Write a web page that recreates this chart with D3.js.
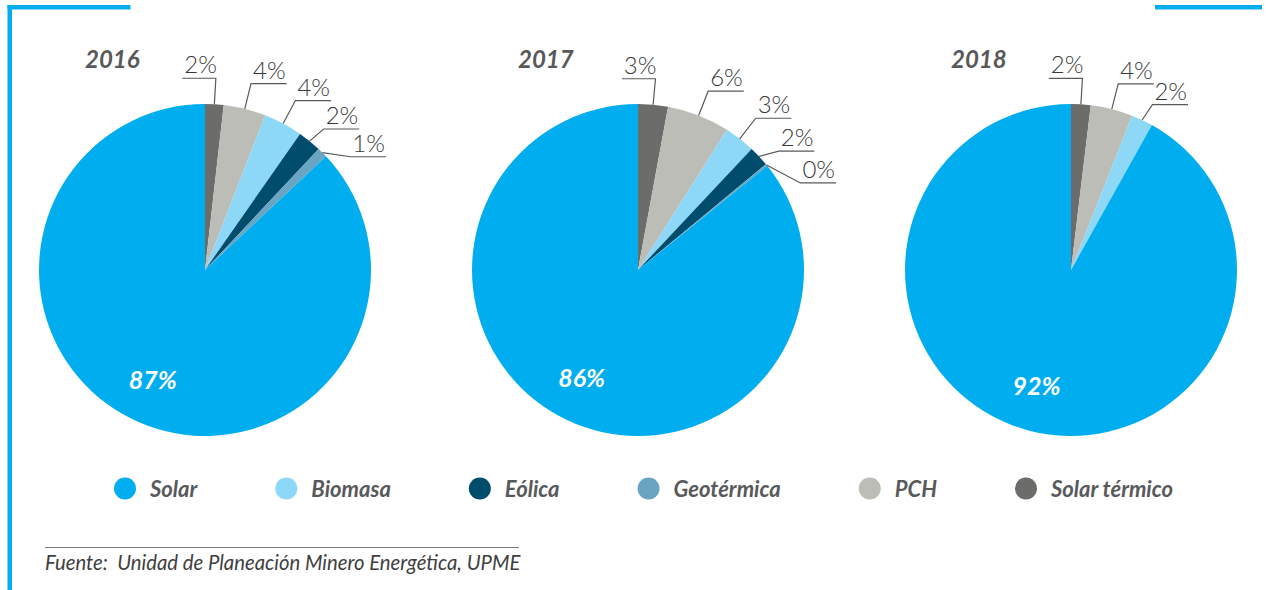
<!DOCTYPE html>
<html>
<head>
<meta charset="utf-8">
<script src="https://cdn.jsdelivr.net/npm/d3@7"></script>
<style>
  html, body { margin: 0; padding: 0; background: #ffffff; }
  svg { display: block; }
</style>
</head>
<body>
<svg id="chart" width="1266" height="590"></svg>
<script>
// ---------- DATA ----------
const categories = ["Solar", "Biomasa", "Eólica", "Geotérmica", "PCH", "Solar térmico"];
const years = ["2016", "2017", "2018"];
// values in legend (category) order, percent share
const values2016 = [87.0, 3.8, 2.3, 1.0, 4.1, 1.8];
const values2017 = [85.8, 3.0, 2.0, 0.2, 6.1, 2.9];
const values2018 = [91.9, 2.1, 0.0, 0.0, 4.1, 1.9];
// clockwise drawing order starting at 12 o'clock
const sliceOrder = ["Solar térmico", "PCH", "Biomasa", "Eólica", "Geotérmica", "Solar"];
const sourceText = "Fuente:  Unidad de Planeación Minero Energética, UPME";

// ---------- STYLE ----------
const colors = {
  "Solar": "#00ADEE",
  "Biomasa": "#8DD7F7",
  "Eólica": "#004C6D",
  "Geotérmica": "#69A5C1",
  "PCH": "#BDBDB8",
  "Solar térmico": "#6C6C6A"
};
const color = d3.scaleOrdinal().domain(categories).range(categories.map(c => colors[c]));
const textGrey = "#58595B";
const lineGrey = "#595959";
const frameBlue = "#00ADEE";
const FONT = "Lato, 'Open Sans', sans-serif";

const svg = d3.select("#chart");
const W = 1266, H = 590;

// ---------- FRAME ----------
svg.append("rect").attr("x", 7.5).attr("y", 5).attr("width", 4.5).attr("height", H - 5).attr("fill", frameBlue);
svg.append("rect").attr("x", 7.5).attr("y", 5).attr("width", 123).attr("height", 4.5).attr("fill", frameBlue);
svg.append("rect").attr("x", 1155).attr("y", 5).attr("width", 107).attr("height", 4.5).attr("fill", frameBlue);

// ---------- PIES ----------
const yearValues = { "2016": values2016, "2017": values2017, "2018": values2018 };
const R = 166, cy = 270;
const xPos = d3.scalePoint().domain(years).range([205, 1071]);

const pie = d3.pie().sort(null).value(d => d.value).startAngle(0).endAngle(2 * Math.PI);
const arc = d3.arc().innerRadius(0).outerRadius(R);
const deg = Math.PI / 180;

years.forEach(year => {
  const vals = yearValues[year];
  const rows = sliceOrder.map(c => ({ cat: c, value: vals[categories.indexOf(c)] }));
  const total = d3.sum(rows, d => d.value);
  const arcs = pie(rows);
  const cx = xPos(year);
  const g = svg.append("g").attr("transform", `translate(${cx},${cy})`);

  g.selectAll("path.slice").data(arcs).enter().append("path")
    .attr("class", "slice")
    .attr("d", arc)
    .attr("fill", d => color(d.data.cat));

  // title
  svg.append("text")
    .attr("x", cx - 120).attr("y", 68)
    .attr("font-family", FONT).attr("font-weight", 700).attr("font-style", "italic")
    .attr("font-size", 24).attr("fill", textGrey)
    .text(year);

  const fmt = v => d3.format(".0%")(v / total);

  // outside labels with leader lines
  let prevAngle = -Infinity;
  const elbowR = R * 1.157;
  arcs.filter(d => d.data.cat !== "Solar" && d.data.value > 0).forEach(d => {
    const mid = (d.startAngle + d.endAngle) / 2;
    const left = mid < 8 * deg;
    const a = left ? mid : Math.max(mid, prevAngle + 12 * deg);
    if (!left) prevAngle = a;
    // pushed-out labels sit slightly closer to the pie
    const er = a > mid + 0.5 * deg ? R * 1.11 : elbowR;
    const p0 = [Math.sin(mid) * R, -Math.cos(mid) * R];
    const p1 = [Math.sin(a) * er, -Math.cos(a) * er];
    const t = g.append("text")
      .attr("font-family", FONT).attr("font-weight", 300)
      .attr("font-size", 24).attr("fill", "#3a3a3a")
      .attr("y", p1[1] - 5)
      .text(fmt(d.data.value));
    const tw = t.node().getComputedTextLength();
    let p2;
    if (left) {
      t.attr("x", p1[0] + 1).attr("text-anchor", "end");
      p2 = [p1[0] - tw - 1, p1[1]];
    } else {
      t.attr("x", p1[0] + 2).attr("text-anchor", "start");
      p2 = [p1[0] + tw + 3, p1[1]];
    }
    g.append("polyline")
      .attr("points", [p0, p1, p2].map(p => p.join(",")).join(" "))
      .attr("fill", "none").attr("stroke", lineGrey).attr("stroke-width", 1.2);
  });

  // inside label for Solar
  const solar = arcs.find(d => d.data.cat === "Solar");
  const sm = (solar.startAngle + solar.endAngle) / 2;
  const rr = R * 0.73;
  g.append("text")
    .attr("x", Math.sin(sm) * rr - 4).attr("y", -Math.cos(sm) * rr - 2)
    .attr("text-anchor", "middle").attr("dominant-baseline", "central")
    .attr("font-family", FONT).attr("font-weight", 700).attr("font-style", "italic")
    .attr("font-size", 25).attr("fill", "#ffffff")
    .text(fmt(solar.data.value));
});

// ---------- LEGEND ----------
const legend = svg.append("g").attr("transform", "translate(0,488.5)");
let lx = 125;
categories.forEach(c => {
  const item = legend.append("g");
  item.append("circle").attr("cx", lx).attr("cy", 0).attr("r", 11).attr("fill", color(c));
  const t = item.append("text")
    .attr("x", lx + 25).attr("y", 0).attr("dominant-baseline", "central")
    .attr("font-family", FONT).attr("font-weight", 700).attr("font-style", "italic")
    .attr("font-size", 22).attr("fill", textGrey)
    .text(c);
  lx = lx + 25 + t.node().getComputedTextLength() + 89;
});

// ---------- SOURCE ----------
svg.append("line").attr("x1", 45).attr("x2", 519).attr("y1", 547.5).attr("y2", 547.5)
  .attr("stroke", "#7a7a7a").attr("stroke-width", 1.2);
svg.append("text")
  .attr("x", 45).attr("y", 570)
  .attr("font-family", FONT).attr("font-style", "italic").attr("font-weight", 400)
  .attr("font-size", 20.3).attr("fill", "#404040")
  .style("white-space", "pre")
  .text(sourceText);
</script>
</body>
</html>
